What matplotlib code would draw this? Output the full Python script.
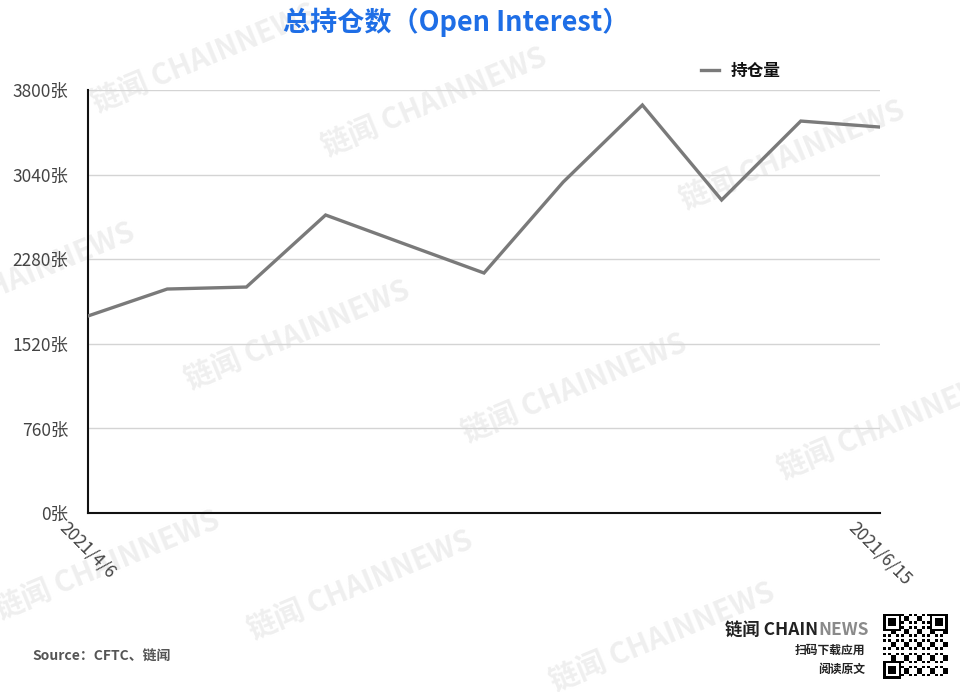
import matplotlib
matplotlib.use("Agg")
import matplotlib.pyplot as plt
import numpy as np

plt.rcParams['font.family'] = ['Noto Sans CJK SC', 'DejaVu Sans']

dates = ["2021/4/6", "2021/4/13", "2021/4/20", "2021/4/27", "2021/5/4", "2021/5/11",
         "2021/5/18", "2021/5/25", "2021/6/1", "2021/6/8", "2021/6/15"]
open_interest = [1770, 2012, 2030, 2677, 2416, 2156, 2973, 3665, 2812, 3521, 3467]
yticks = [0, 760, 1520, 2280, 3040, 3800]
ytick_labels = ["0张", "760张", "1520张", "2280张", "3040张", "3800张"]
series_name = "持仓量"
title = "总持仓数（Open Interest）"

W, H = 960, 692
fig = plt.figure(figsize=(W / 100, H / 100), dpi=100)
fig.patch.set_facecolor("white")

# watermarks (decoration, drawn beneath the chart)
wm_starts = [(97, 113), (327, 157), (685, 210), (-85, 332), (190, 390), (467, 443),
             (783, 480), (0, 620), (253, 640), (555, 692)]
for (px, py) in wm_starts:
    fig.text(px / W, 1 - py / H, "链闻 CHAINNEWS", fontsize=21, fontweight="bold",
             color="#efefef", rotation=22.5, rotation_mode="anchor",
             ha="left", va="baseline", zorder=-5)

ax = fig.add_axes([88 / W, 1 - 513 / H, (880 - 88) / W, (513 - 90) / H])
ax.set_facecolor("none")
x = np.arange(len(dates))
line, = ax.plot(x, open_interest, color="#7a7a7a", lw=2.4, label=series_name,
                solid_joinstyle="miter", zorder=3)
ax.set_xlim(0, len(dates) - 1)
ax.set_ylim(0, 3800)
ax.set_yticks(yticks)
ax.set_yticklabels(ytick_labels)
ax.set_xticks([0, len(dates) - 1])
ax.set_xticklabels([dates[0], dates[-1]], rotation=-45, ha="center")
ax.tick_params(axis="y", length=0, pad=14, labelsize=12.5, labelcolor="#444444")
ax.tick_params(axis="x", length=0, pad=4, labelsize=12.5, labelcolor="#444444")
ax.grid(axis="y", color="#d4d4d4", lw=1)
ax.set_axisbelow(True)
for s in ["top", "right"]:
    ax.spines[s].set_visible(False)
for s in ["left", "bottom"]:
    ax.spines[s].set_color("#111111")
    ax.spines[s].set_linewidth(1.5)

fig.text(456 / W, 1 - 22 / H, title, fontsize=19.5, fontweight="bold",
         color="#1e6ee6", ha="center", va="center")

leg = fig.legend(handles=[line], loc="center left", bbox_to_anchor=(701 / W, 1 - 71 / H),
                 frameon=False, fontsize=12, handlelength=1.1, handletextpad=0.7,
                 borderpad=0, borderaxespad=0)
for t in leg.get_texts():
    t.set_fontweight("bold")
    t.set_color("#111111")

fig.text(32 / W, 1 - 657 / H, "Source：CFTC、链闻", fontsize=10, fontweight="bold",
         color="#555555", ha="left", va="center")

# bottom-right brand
t1 = fig.text(725 / W, 1 - 630 / H, "链闻 CHAIN", fontsize=12.5, fontweight="bold",
              color="#222222", ha="left", va="center")
fig.canvas.draw()
bb = t1.get_window_extent()
fig.text(bb.x1 / W, 1 - 630 / H, "NEWS", fontsize=12.5, fontweight="bold",
         color="#8a8a8a", ha="left", va="center")
fig.text(865 / W, 1 - 650 / H, "扫码下载应用", fontsize=8.5, fontweight="bold",
         color="#222222", ha="right", va="center")
fig.text(865 / W, 1 - 669 / H, "阅读原文", fontsize=8.5, fontweight="bold",
         color="#222222", ha="right", va="center")

# QR-like decoration
qax = fig.add_axes([883 / W, 1 - 680 / H, 65 / W, 67 / H])
n = 25
ii, jj = np.meshgrid(np.arange(n), np.arange(n), indexing="ij")
qr = (((ii * 7 + jj * 13 + ii * jj * 3) % 5) < 2).astype(float)
def finder(r, c):
    qr[r:r + 7, c:c + 7] = 1
    qr[r + 1:r + 6, c + 1:c + 6] = 0
    qr[r + 2:r + 5, c + 2:c + 5] = 1
finder(0, 0); finder(0, n - 7); finder(n - 7, 0)
qax.imshow(1 - qr, cmap="gray", interpolation="nearest", vmin=0, vmax=1)
qax.axis("off")

fig.savefig("out.png", dpi=100, facecolor="white")
